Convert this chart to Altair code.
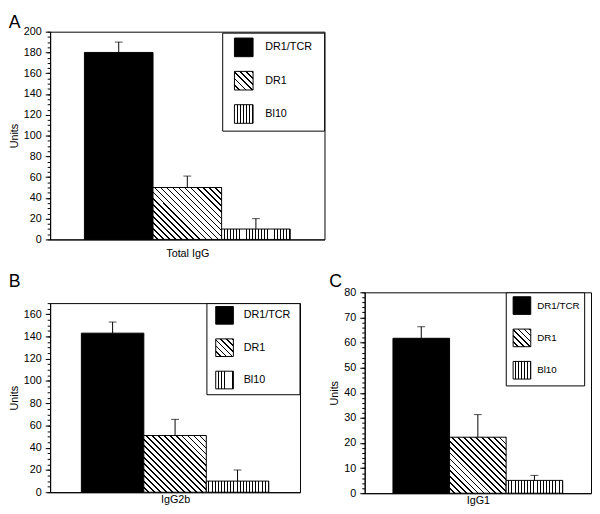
import altair as alt
import pandas as pd

groups = ["DR1/TCR", "DR1", "Bl10"]

total_igg = [180, 50, 10]
total_igg_err = [10, 11, 10]
igg2b = [143, 51, 10]
igg2b_err = [10, 14.5, 10]
igg1 = [61.7, 22.3, 5.1]
igg1_err = [4.6, 9.0, 2.0]

ticks_a = list(range(0, 201, 20))
minor_a = list(range(0, 201, 5))
ticks_b = list(range(0, 161, 20))
minor_b = list(range(0, 171, 5))
ticks_c = list(range(0, 81, 10))
minor_c = list(range(0, 81, 2))

FONT = "Liberation Sans"


def stripe_stops(n, frac=0.3):
    out = []
    for k in range(n):
        a = round(k / n, 5)
        b = round((k + 1 - frac) / n, 5)
        c = round((k + 1) / n, 5)
        out += [{"offset": a, "color": "white"}, {"offset": b, "color": "white"},
                {"offset": b, "color": "black"}, {"offset": c, "color": "black"}]
    return out


def vert(n):
    return {"gradient": "linear", "x1": 0, "y1": 0, "x2": 1, "y2": 0, "stops": stripe_stops(n)}


def diag(n, r):
    k = (1 + r) / (1 + r * r)
    return {"gradient": "linear", "x1": 0, "y1": 1, "x2": round(k, 4), "y2": round(1 - k * r, 4),
            "stops": stripe_stops(n)}


def js(g):
    st = ",".join("{offset:%g,color:'%s'}" % (s["offset"], s["color"]) for s in g["stops"])
    return "{gradient:'linear',x1:%g,y1:%g,x2:%g,y2:%g,stops:[%s]}" % (
        g["x1"], g["y1"], g["x2"], g["y2"], st)


def panel(letter, xlabel, values, errs, ymax, ticks, minor, w, h,
          title_offset, xtitle_pad, leg):
    df = pd.DataFrame({"group": groups, "value": values,
                       "top": [v + e for v, e in zip(values, errs)]})
    base = alt.Chart(df)
    xscale = alt.Scale(domain=groups, paddingInner=0, paddingOuter=0.5)
    yscale = alt.Scale(domain=[0, ymax], nice=False, zero=True)
    x_axis = alt.Axis(labels=False, ticks=False, title=xlabel, titlePadding=xtitle_pad)
    y_axis = alt.Axis(values=ticks, title="Units", orient="left", tickSize=5,
                      labelPadding=4, titlePadding=4)
    y_minor = alt.Axis(values=minor, title=None, labels=False, domain=False,
                       tickSize=3, orient="left")

    def X(axis):
        return alt.X("group:N", sort=groups, scale=xscale, axis=axis)

    def Y(field, axis):
        return alt.Y(field, type="quantitative", scale=yscale, axis=axis)

    bw = w / 4
    bh = values[1] / ymax * h
    r = bh / bw
    n_d = max(3, round((bw + bh) / 6))
    n_v = max(3, round(bw / 3.2))

    bar_black = base.transform_filter(alt.datum.group == groups[0]).mark_bar(
        fill="black", stroke="black", strokeWidth=1).encode(x=X(x_axis), y=Y("value", y_axis))
    bar_diag = base.transform_filter(alt.datum.group == groups[1]).mark_bar(
        fill=diag(n_d, r), stroke="black", strokeWidth=1).encode(x=X(None), y=Y("value", None))
    bar_vert = base.transform_filter(alt.datum.group == groups[2]).mark_bar(
        fill=vert(n_v), stroke="black", strokeWidth=1).encode(x=X(None), y=Y("value", None))
    err_rule = base.mark_rule(color="black", strokeWidth=1).encode(
        x=X(None), y=Y("value", None), y2="top")
    err_cap = base.mark_tick(color="black", thickness=1, size=8, orient="horizontal").encode(
        x=X(None), y=Y("top", y_minor))

    legend_kw = dict(
        orient="none", legendX=leg["x"], legendY=leg["y"],
        symbolType="square", symbolSize=leg["sym"] ** 2,
        symbolStrokeColor="black", symbolStrokeWidth=1,
        labelFont=FONT, labelFontSize=leg["fs"], labelColor="black",
        labelOffset=leg["lo"], rowPadding=leg["rp"], padding=leg["pad"],
        symbolOffset=leg["so"], strokeColor="black", fillColor="white",
    )
    if leg["extra"] > 0:
        legend_kw.update(title=".", titleOrient="right", titlePadding=leg["extra"],
                         titleColor="white", titleFontSize=8, titleFont=FONT)
    else:
        legend_kw.update(title=None)

    legend_layer = base.transform_filter("false").mark_bar().encode(
        color=alt.Color(
            "group:N",
            scale=alt.Scale(domain=groups,
                            range=["black", {"expr": js(diag(6, 1))}, {"expr": js(vert(6))}]),
            legend=alt.Legend(**legend_kw),
        )
    )

    return alt.layer(bar_black, bar_diag, bar_vert, err_rule, err_cap, legend_layer).resolve_axis(
        x="independent", y="independent"
    ).properties(
        width=w, height=h,
        title=alt.TitleParams(letter, anchor="start", fontSize=18, font=FONT,
                              fontWeight="normal", offset=title_offset, color="black"),
    )


def spacer():
    return alt.Chart(pd.DataFrame({"s": [0]})).mark_point(opacity=0).encode(
        x=alt.X("s:Q", axis=None), y=alt.Y("s:Q", axis=None)
    ).properties(width=1, height=1, view=alt.ViewBackground(strokeOpacity=0))


A = panel("A", "Total IgG", total_igg, total_igg_err, 200, ticks_a, minor_a, 280, 212,
          -6, 8, dict(x=175.6, y=1, sym=19, fs=11, lo=12, rp=10, pad=5, so=7, extra=4))
B = panel("B", "IgG2b", igg2b, igg2b_err, 170, ticks_b, minor_b, 255, 193,
          12, 2, dict(x=159.5, y=0, sym=18, fs=11, lo=10, rp=10, pad=3, so=6, extra=3))
C = panel("C", "IgG1", igg1, igg1_err, 80, ticks_c, minor_c, 231, 205,
          -4.5, 2, dict(x=144, y=0, sym=18, fs=10, lo=6, rp=10, pad=4, so=3, extra=0))

B_cell = alt.vconcat(spacer(), B, spacing=0).resolve_scale(color="independent")
C_cell = alt.vconcat(spacer(), C, spacing=0).resolve_scale(color="independent")

row2 = alt.hconcat(B_cell, C_cell, spacing=28).resolve_scale(
    color="independent").resolve_legend(color="independent")

chart = alt.vconcat(A, row2, spacing=7).resolve_scale(
    color="independent"
).resolve_legend(
    color="independent"
).properties(
    padding=0
).configure_view(
    stroke="black", strokeWidth=1
).configure_axis(
    labelFont=FONT, labelFontSize=11, labelColor="black",
    titleFont=FONT, titleFontSize=11, titleFontWeight="normal", titleColor="black",
    domainColor="black", tickColor="black", grid=False, domainWidth=1, tickWidth=1,
)

chart.save("out.html", embed_options={"renderer": "svg", "actions": False})
